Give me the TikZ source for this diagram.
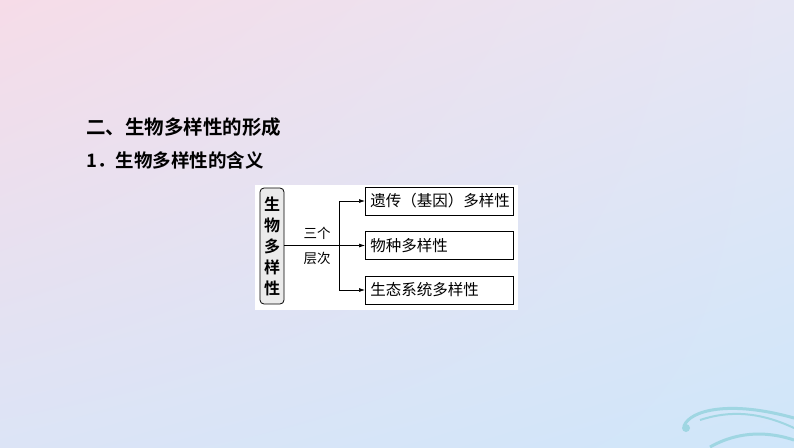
\documentclass[tikz,border=0pt]{standalone}
\usepackage{fontspec}
\newfontfamily\cjk{Noto Sans CJK SC}
\newfontfamily\cjkb{Noto Sans CJK SC Bold}
\usetikzlibrary{arrows.meta,shadings}
\definecolor{bgtl}{HTML}{F6DCE8}
\definecolor{bgtr}{HTML}{E6E6F4}
\definecolor{bgbl}{HTML}{DCE4F6}
\definecolor{bgbr}{HTML}{CFE6FA}
\definecolor{wave}{HTML}{9FD6E2}
\tikzset{
 item/.style={draw=black,line width=0.8pt,fill=white,minimum width=148pt,minimum height=28pt,anchor=west,inner sep=0pt,font=\cjk\fontsize{15.5}{15.5}\selectfont,text width=138pt,align=left},
 arr/.style={line width=0.7pt,-{Latex[length=6pt,width=4pt]}},
 lbl/.style={font=\cjk\fontsize{13.5}{13.5}\selectfont,inner sep=0pt}
}
\begin{document}
\begin{tikzpicture}[x=1pt,y=-1pt]
\shade[upper left=bgtl,upper right=bgtr,lower left=bgbl,lower right=bgbr] (0,0) rectangle (794,447);
\useasboundingbox (0,0) rectangle (794,447);
% wave decoration
\draw[wave,line width=3pt,line cap=round] (684,426) .. controls (690,410) and (730,400) .. (794,418);
\draw[wave,line width=2pt] (700,420) .. controls (730,410) and (760,412) .. (794,428);
\draw[wave,line width=3pt] (710,447) .. controls (740,430) and (770,432) .. (794,440);
\fill[wave] (686,428) circle (4);
% titles
\node[anchor=west,inner sep=0pt,font=\cjkb\fontsize{19.5}{19.5}\selectfont] (t1) at (86,127) {二、生物多样性的形成};
\node[anchor=west,inner sep=0pt,font=\cjkb\fontsize{18.5}{18.5}\selectfont] (t2) at (86,160) {1．生物多样性的含义};
% diagram background
\fill[white] (255,185) rectangle (518,310);
\node[draw=black,line width=0.8pt,fill=black!8,rounded corners=4pt,minimum width=24pt,minimum height=116pt,inner sep=0pt,align=center,font=\cjkb\fontsize{16}{21}\selectfont] (root) at (272,246) {生\\物\\多\\样\\性};
\node[item] (b1) at (365,201) {遗传（基因）多样性};
\node[item] (b2) at (365,245.5) {物种多样性};
\node[item] (b3) at (365,290) {生态系统多样性};
\node[lbl] (l1) at (317,233) {三个};
\node[lbl] (l2) at (317,258) {层次};
\coordinate (j) at (339,245.5);
\coordinate (jt) at (339,201);
\coordinate (jb) at (339,290);
\draw[line width=0.7pt] (root.east |- j) -- (j);
\draw[line width=0.7pt] (jt) -- (jb);
\draw[arr] (jt) -- (b1.west);
\draw[arr] (j) -- (b2.west);
\draw[arr] (jb) -- (b3.west);
\end{tikzpicture}
\end{document}
